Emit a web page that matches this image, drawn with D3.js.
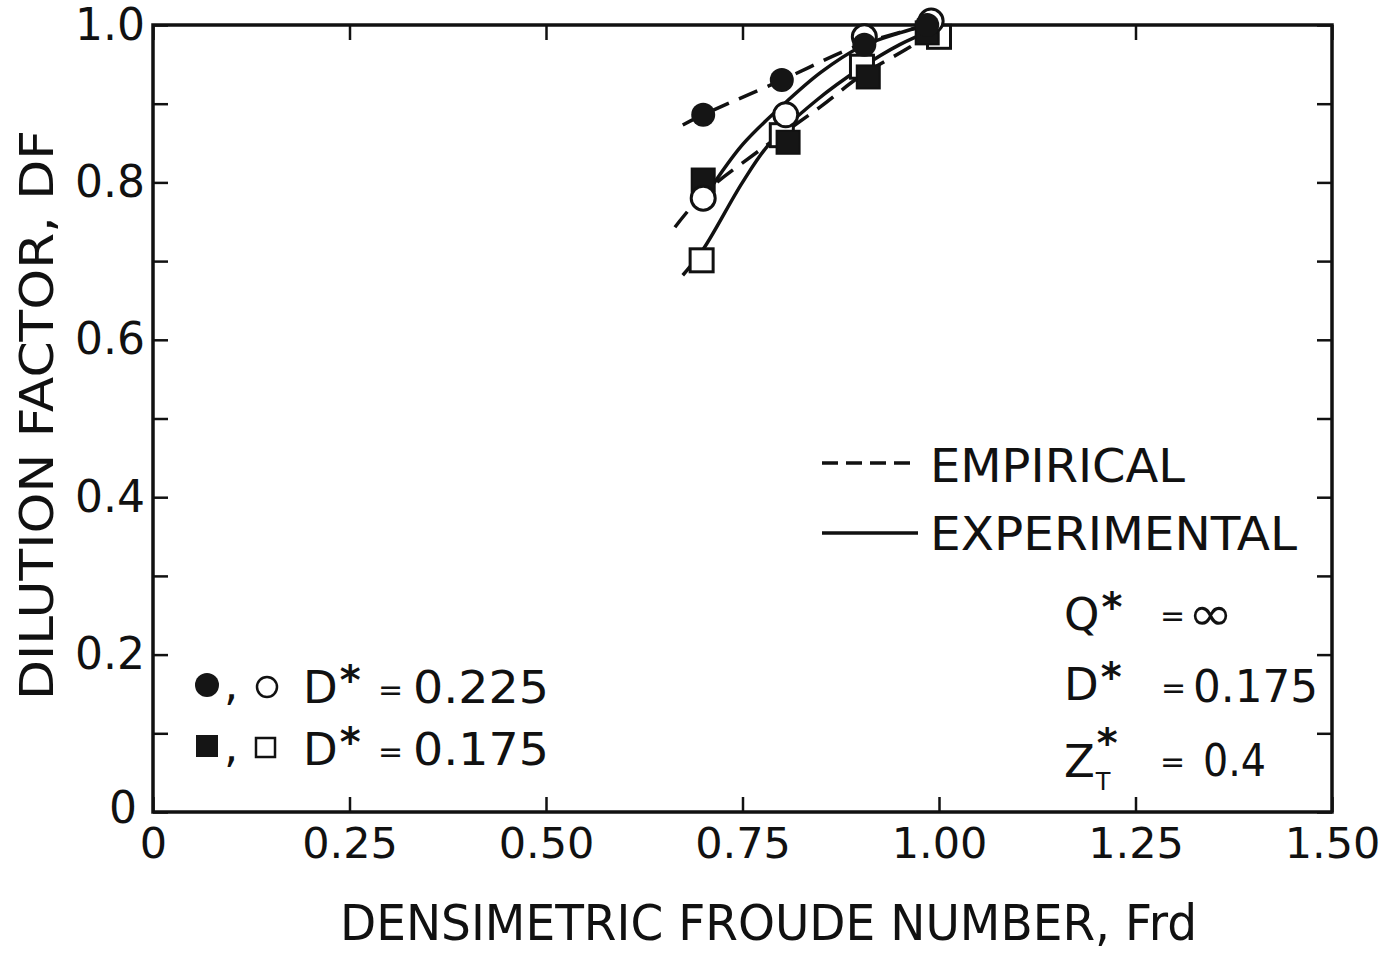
<!DOCTYPE html>
<html>
<head>
<meta charset="utf-8">
<script src="https://cdn.jsdelivr.net/npm/d3@7"></script>
<style>
  html, body { margin: 0; padding: 0; background: #fff; }
  svg { display: block; }
  text { font-family: "DejaVu Sans", "Liberation Sans", sans-serif; fill: #111; }
</style>
</head>
<body>
<svg id="chart" width="1380" height="953"></svg>
<script>
// Axis ticks
const xTicks = [0, 0.25, 0.5, 0.75, 1.0, 1.25, 1.5];
const xTickLabels = ["0", "0.25", "0.50", "0.75", "1.00", "1.25", "1.50"];
const yTicks = [0, 0.1, 0.2, 0.3, 0.4, 0.5, 0.6, 0.7, 0.8, 0.9, 1.0];
const yTickLabels = ["0", "", "0.2", "", "0.4", "", "0.6", "", "0.8", "", "1.0"];

// Measured points (Frd, DF)
const filledCircleFrd = [0.70, 0.80, 0.905, 0.985];
const filledCircleDF  = [0.886, 0.930, 0.975, 1.0];
const openCircleFrd   = [0.70, 0.805, 0.905, 0.99];
const openCircleDF    = [0.780, 0.886, 0.985, 1.005];
const filledSquareFrd = [0.70, 0.808, 0.91, 0.985];
const filledSquareDF  = [0.803, 0.851, 0.934, 0.99];
const openSquareFrd   = [0.698, 0.80, 0.902, 1.0];
const openSquareDF    = [0.701, 0.86, 0.947, 0.985];

// Fitted curves
const empirical225Frd = [0.674, 0.70, 0.80, 0.90, 0.985];
const empirical225DF  = [0.873, 0.886, 0.930, 0.975, 1.0];
const experimental225Frd = [0.705, 0.75, 0.80, 0.85, 0.90, 0.95, 0.985];
const experimental225DF  = [0.786, 0.848, 0.897, 0.940, 0.972, 0.990, 1.0];
const empirical175Frd = [0.664, 0.70, 0.772, 0.849, 0.90, 0.963, 0.99];
const empirical175DF  = [0.743, 0.785, 0.841, 0.896, 0.935, 0.972, 0.99];
const experimental175Frd = [0.674, 0.70, 0.75, 0.785, 0.845, 0.90, 0.95, 0.995];
const experimental175DF  = [0.682, 0.715, 0.800, 0.850, 0.905, 0.945, 0.975, 0.995];

const svg = d3.select("#chart");
const x = d3.scaleLinear().domain([0, 1.5]).range([153, 1332]);
const y = d3.scaleLinear().domain([0, 1]).range([812, 25]);

const ink = "#111";

// Tick marks (inward on all four sides)
const axisStyle = g => {
  g.select(".domain").remove();
  g.selectAll(".tick line").attr("stroke", ink).attr("stroke-width", 2.5);
};
svg.append("g").attr("transform", `translate(0,${y(0)})`)
  .call(d3.axisBottom(x).tickValues(xTicks).tickSize(-15).tickFormat((d, i) => xTickLabels[i]).tickPadding(15))
  .call(axisStyle)
  .call(g => g.selectAll(".tick text").attr("font-size", 43).attr("fill", ink).attr("dy", "0.71em"));
svg.append("g").attr("transform", `translate(0,${y(1)})`)
  .call(d3.axisTop(x).tickValues(xTicks).tickSize(-15).tickFormat(""))
  .call(axisStyle);
svg.append("g").attr("transform", `translate(${x(0)},0)`)
  .call(d3.axisLeft(y).tickValues(yTicks).tickSize(-15).tickFormat((d, i) => yTickLabels[i]).tickPadding(8))
  .call(axisStyle)
  .call(g => g.selectAll(".tick text").attr("font-size", 44).attr("fill", ink)
    .filter(d => d === 0).attr("text-anchor", "middle").attr("x", -30).attr("y", -4));
svg.append("g").attr("transform", `translate(${x(1.5)},0)`)
  .call(d3.axisRight(y).tickValues(yTicks).tickSize(-15).tickFormat(""))
  .call(axisStyle);

// Frame
svg.append("rect")
  .attr("x", x(0)).attr("y", y(1))
  .attr("width", x(1.5) - x(0)).attr("height", y(0) - y(1))
  .attr("fill", "none").attr("stroke", ink).attr("stroke-width", 3.5);

// Axis titles
svg.append("text")
  .attr("x", 340).attr("y", 940)
  .attr("font-size", 50)
  .attr("textLength", 857).attr("lengthAdjust", "spacingAndGlyphs")
  .text("DENSIMETRIC FROUDE NUMBER, Frd");
svg.append("text")
  .attr("transform", "translate(53,700) rotate(-90)")
  .attr("font-size", 46)
  .attr("textLength", 570).attr("lengthAdjust", "spacingAndGlyphs")
  .text("DILUTION FACTOR, DF");

// Curves
const line = d3.line().x(d => x(d[0])).y(d => y(d[1])).curve(d3.curveCatmullRom.alpha(0.5));
const curves = [
  { frd: empirical225Frd, df: empirical225DF, dash: "20,11" },
  { frd: empirical175Frd, df: empirical175DF, dash: "20,11" },
  { frd: experimental225Frd, df: experimental225DF, dash: null },
  { frd: experimental175Frd, df: experimental175DF, dash: null }
];
svg.append("g").selectAll("path").data(curves).join("path")
  .attr("d", c => line(d3.zip(c.frd, c.df)))
  .attr("fill", "none").attr("stroke", ink).attr("stroke-width", 3.5)
  .attr("stroke-dasharray", c => c.dash);

// Markers
const sq = 23, r = 12;
const marks = svg.append("g");
marks.selectAll(".osq").data(d3.zip(openSquareFrd, openSquareDF)).join("rect")
  .attr("x", d => x(d[0]) - sq / 2).attr("y", d => y(d[1]) - sq / 2)
  .attr("width", sq).attr("height", sq)
  .attr("fill", "#fff").attr("stroke", ink).attr("stroke-width", 3);
marks.selectAll(".fsq").data(d3.zip(filledSquareFrd, filledSquareDF)).join("rect")
  .attr("x", d => x(d[0]) - sq / 2).attr("y", d => y(d[1]) - sq / 2)
  .attr("width", sq).attr("height", sq)
  .attr("fill", "#151515").attr("stroke", ink).attr("stroke-width", 2);
marks.selectAll(".oc").data(d3.zip(openCircleFrd, openCircleDF)).join("circle")
  .attr("cx", d => x(d[0])).attr("cy", d => y(d[1])).attr("r", r)
  .attr("fill", "#fff").attr("stroke", ink).attr("stroke-width", 3);
marks.selectAll(".fc").data(d3.zip(filledCircleFrd, filledCircleDF)).join("circle")
  .attr("cx", d => x(d[0])).attr("cy", d => y(d[1])).attr("r", r)
  .attr("fill", "#151515");

// Line legend
const legend = svg.append("g");
legend.append("line").attr("x1", 822).attr("x2", 918).attr("y1", 463).attr("y2", 463)
  .attr("stroke", ink).attr("stroke-width", 3.5).attr("stroke-dasharray", "16,8");
legend.append("line").attr("x1", 822).attr("x2", 918).attr("y1", 533).attr("y2", 533)
  .attr("stroke", ink).attr("stroke-width", 3.5);
legend.append("text").attr("x", 930).attr("y", 482).attr("font-size", 46)
  .attr("textLength", 255).attr("lengthAdjust", "spacingAndGlyphs").text("EMPIRICAL");
legend.append("text").attr("x", 930).attr("y", 550).attr("font-size", 46)
  .attr("textLength", 367).attr("lengthAdjust", "spacingAndGlyphs").text("EXPERIMENTAL");

// Symbol with a starred superscript (and optional subscript) as one text element
const starred = (g, letter, xx, yy, sub) => {
  const t = g.append("text").attr("x", xx).attr("y", yy).attr("font-size", 45);
  t.append("tspan").text(letter);
  t.append("tspan").attr("dx", 2).attr("dy", sub ? -20 : -9).attr("font-size", 40).attr("font-weight", "bold")
    .text("*");
  if (sub) {
    t.append("tspan").attr("dx", -22).attr("dy", 33).attr("font-size", 24).text(sub);
  }
  return t;
};
const eq = (g, xx, yy) => g.append("text").attr("x", xx).attr("y", yy).attr("font-size", 30).text("=");

const params = svg.append("g");
starred(params, "Q", 1064, 630);
eq(params, 1160, 626);
params.append("text").attr("x", 1188).attr("y", 630).attr("font-size", 48)
  .attr("textLength", 45).attr("lengthAdjust", "spacingAndGlyphs").text("∞");
starred(params, "D", 1064, 700);
eq(params, 1161, 698);
params.append("text").attr("x", 1193).attr("y", 702).attr("font-size", 45)
  .attr("textLength", 125).attr("lengthAdjust", "spacingAndGlyphs").text("0.175");
starred(params, "Z", 1064, 777, "T");
eq(params, 1160, 772);
params.append("text").attr("x", 1203).attr("y", 776).attr("font-size", 45)
  .attr("textLength", 63).attr("lengthAdjust", "spacingAndGlyphs").text("0.4");

// Marker legend
const ml = svg.append("g");
ml.append("circle").attr("cx", 207).attr("cy", 685).attr("r", 12).attr("fill", "#151515");
ml.append("text").attr("x", 224).attr("y", 700).attr("font-size", 45).text(",");
ml.append("circle").attr("cx", 267).attr("cy", 687).attr("r", 10)
  .attr("fill", "#fff").attr("stroke", ink).attr("stroke-width", 2.5);
ml.append("rect").attr("x", 196).attr("y", 735).attr("width", 22).attr("height", 22).attr("fill", "#151515");
ml.append("text").attr("x", 224).attr("y", 762).attr("font-size", 45).text(",");
ml.append("rect").attr("x", 256).attr("y", 738).attr("width", 19).attr("height", 19)
  .attr("fill", "#fff").attr("stroke", ink).attr("stroke-width", 2.5);
[["0.225", 703], ["0.175", 765]].forEach(([v, yy]) => {
  starred(ml, "D", 303, yy);
  eq(ml, 378, yy - 3);
  ml.append("text").attr("x", 413).attr("y", yy).attr("font-size", 45)
    .attr("textLength", 136).attr("lengthAdjust", "spacingAndGlyphs").text(v);
});
</script>
</body>
</html>
